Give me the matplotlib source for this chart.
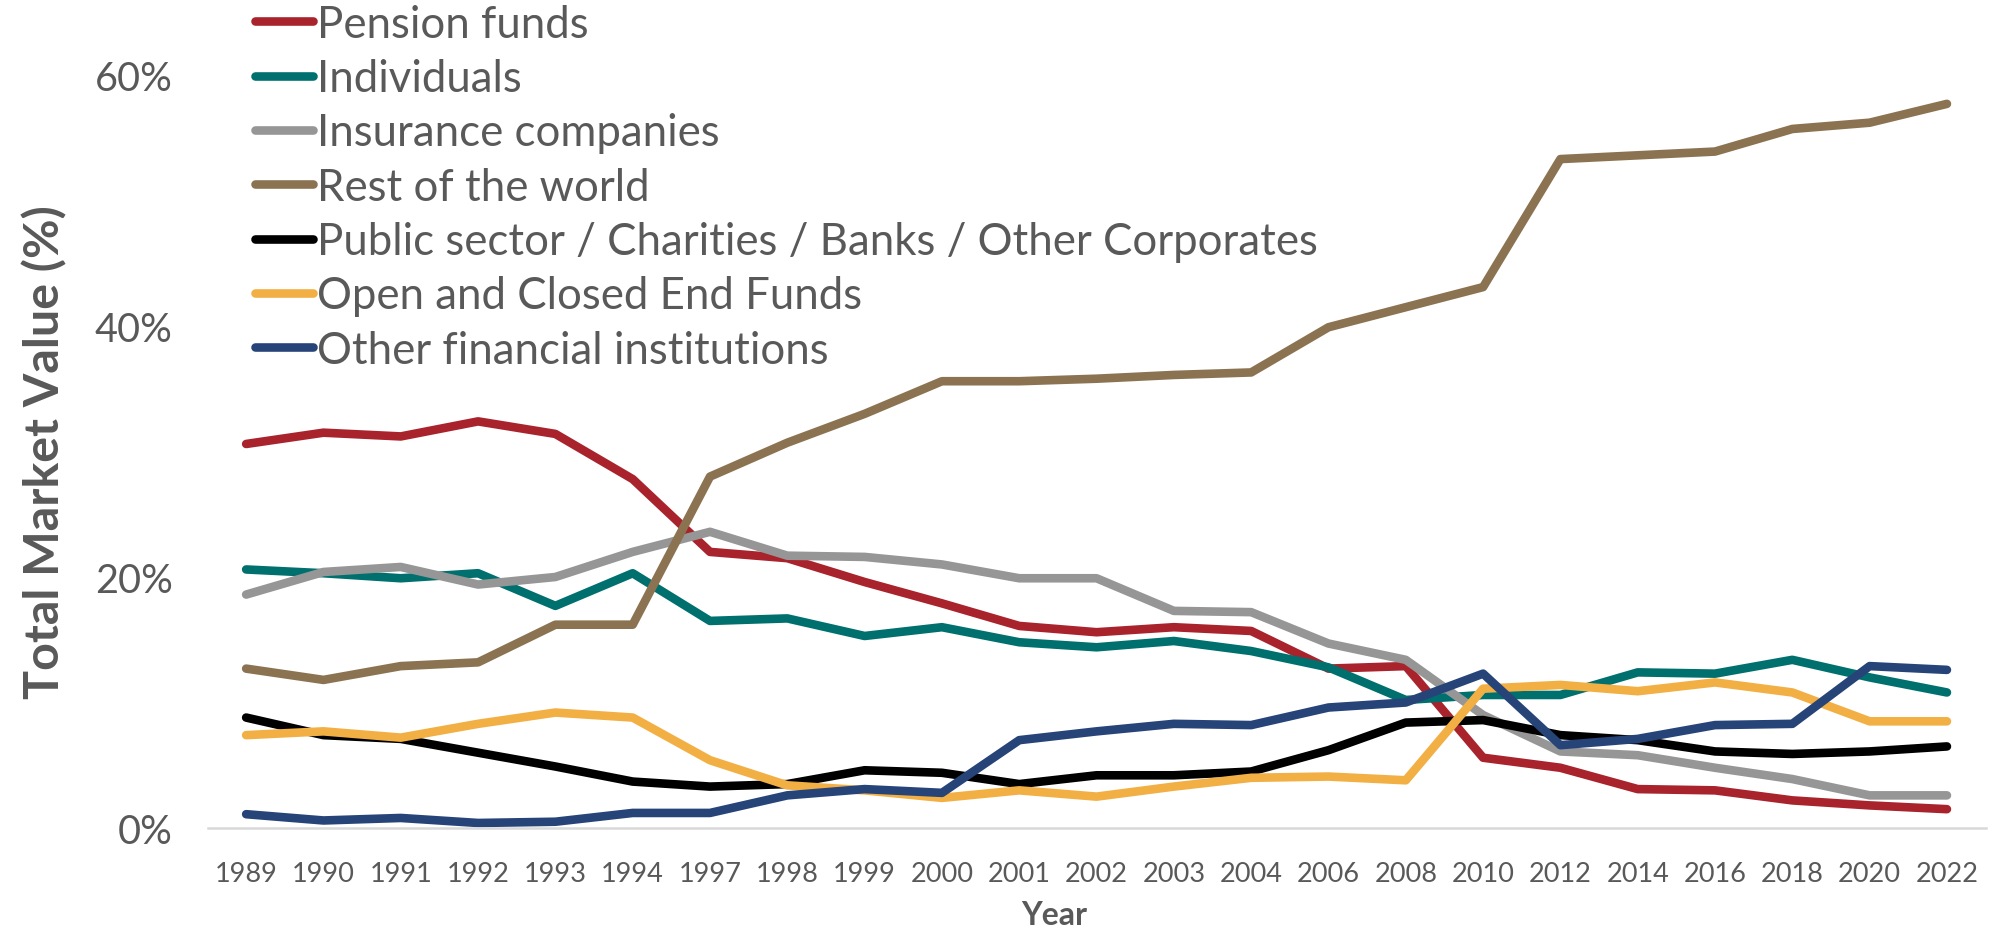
import matplotlib
matplotlib.use("Agg")
import matplotlib.pyplot as plt
from matplotlib.ticker import FixedLocator, FuncFormatter

years = ["1989", "1990", "1991", "1992", "1993", "1994", "1997", "1998", "1999",
         "2000", "2001", "2002", "2003", "2004", "2006", "2008", "2010", "2012",
         "2014", "2016", "2018", "2020", "2022"]

pension_funds = [30.6, 31.5, 31.2, 32.4, 31.4, 27.8, 22.0, 21.5, 19.6, 17.9, 16.1, 15.6,
                 16.0, 15.7, 12.7, 12.9, 5.6, 4.8, 3.1, 3.0, 2.2, 1.8, 1.5]
individuals = [20.6, 20.3, 19.9, 20.3, 17.7, 20.3, 16.5, 16.7, 15.3, 16.0, 14.8, 14.4,
               14.9, 14.1, 12.8, 10.2, 10.6, 10.6, 12.4, 12.3, 13.4, 12.0, 10.8]
insurance_companies = [18.6, 20.4, 20.8, 19.4, 20.0, 22.0, 23.6, 21.7, 21.6, 21.0, 19.9, 19.9,
                       17.3, 17.2, 14.7, 13.4, 9.0, 6.1, 5.8, 4.8, 3.9, 2.6, 2.6]
rest_of_world = [12.7, 11.8, 12.9, 13.2, 16.2, 16.2, 28.0, 30.7, 33.0, 35.6, 35.6, 35.8,
                 36.1, 36.3, 39.9, 41.5, 43.1, 53.3, 53.6, 53.9, 55.7, 56.2, 57.7]
public_sector = [8.8, 7.4, 7.1, 6.0, 4.9, 3.7, 3.3, 3.5, 4.6, 4.4, 3.5, 4.2,
                 4.2, 4.5, 6.2, 8.4, 8.6, 7.4, 7.0, 6.1, 5.9, 6.1, 6.5]
open_closed_funds = [7.4, 7.7, 7.2, 8.3, 9.2, 8.8, 5.4, 3.4, 3.0, 2.4, 3.0, 2.5,
                     3.3, 4.0, 4.1, 3.8, 11.1, 11.4, 10.9, 11.6, 10.8, 8.5, 8.5]
other_financial = [1.1, 0.6, 0.8, 0.4, 0.5, 1.2, 1.2, 2.6, 3.1, 2.8, 7.0, 7.7,
                   8.3, 8.2, 9.6, 10.0, 12.3, 6.6, 7.1, 8.2, 8.3, 12.9, 12.6]

series_names = ["Pension funds", "Individuals", "Insurance companies", "Rest of the world",
                "Public sector / Charities / Banks / Other Corporates",
                "Open and Closed End Funds", "Other financial institutions"]
series_values = [pension_funds, individuals, insurance_companies, rest_of_world,
                 public_sector, open_closed_funds, other_financial]
series_colors = ["#A8232B", "#00706E", "#969696", "#8B7352", "#000000", "#F2AF44", "#264478"]

y_ticks = [0, 20, 40, 60]

text_grey = "#595959"
plt.rcParams["font.family"] = ["Lato", "DejaVu Sans"]

W, H = 2010, 929
fig = plt.figure(figsize=(W / 100, H / 100), dpi=100)
ax = fig.add_axes([207.5 / W, 1 - 829 / H, (1985.6 - 207.5) / W, (829 - 76) / H])

x = list(range(len(years)))
for name, vals, col in zip(series_names, series_values, series_colors):
    ax.plot(x, vals, color=col, lw=6.2, label=name, solid_capstyle="round",
            solid_joinstyle="round", clip_on=False)

ax.set_xlim(-0.5, len(years) - 0.5)
ax.set_ylim(0, 60)
ax.set_xticks(x)
ax.set_xticklabels(years)
ax.yaxis.set_major_locator(FixedLocator(y_ticks))
ax.yaxis.set_major_formatter(FuncFormatter(lambda v, p: f"{v:.0f}%"))

ax.tick_params(axis="x", length=0, pad=24, labelsize=19.5, labelcolor=text_grey)
ax.tick_params(axis="y", length=0, pad=25, labelsize=28.5, labelcolor=text_grey)

for side in ["top", "right", "left"]:
    ax.spines[side].set_visible(False)
ax.spines["bottom"].set_color("#D9D9D9")
ax.spines["bottom"].set_linewidth(1.8)

ax.set_ylabel("Total Market Value (%)", fontsize=34.8, fontweight="bold", color=text_grey,
              labelpad=20)
ax.set_xlabel("Year", fontsize=23, fontweight="bold", color=text_grey)
ax.xaxis.set_label_coords(0.476, -0.095)

leg = fig.legend(loc="upper left", bbox_to_anchor=(255 / W, 0.995), frameon=False,
                 fontsize=31.5, handlelength=1.33, handletextpad=0.08, labelspacing=0.305,
                 borderpad=0, borderaxespad=0)
for t in leg.get_texts():
    t.set_color(text_grey)
for h in leg.legend_handles:
    h.set_linewidth(6.2)
    h.set_solid_capstyle("round")

fig.savefig("out.png", dpi=100, facecolor="white")
